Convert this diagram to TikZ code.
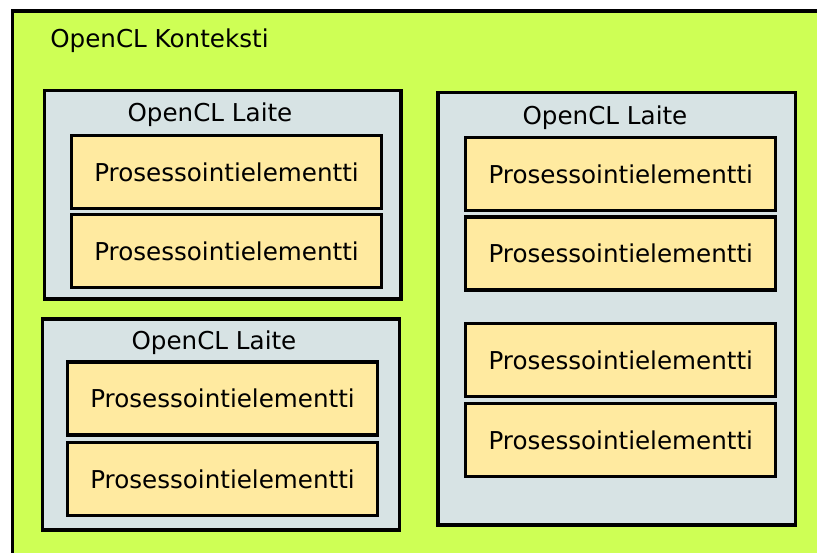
\documentclass[tikz,border=0pt]{standalone}
\usepackage{fontspec}
\setmainfont{DejaVu Sans}

\definecolor{ctxgreen}{HTML}{CEFF55}
\definecolor{devgray}{HTML}{D7E3E4}
\definecolor{peyellow}{HTML}{FFEAA0}

\tikzset{
  device/.style={rectangle, draw, line width=1.9pt, fill=devgray},
  pe/.style={rectangle, draw, line width=1.9pt, fill=peyellow,
    minimum width=6.2cm, minimum height=1.46cm, inner sep=0pt},
  lbl/.style={font=\fontsize{14}{17}\selectfont, inner sep=0pt}
}

\begin{document}
\begin{tikzpicture}[x=0.02cm, y=-0.02cm]
    \useasboundingbox (0,0) rectangle (817,552);
    \clip (0,0) rectangle (817,552);

    % Context
    \fill[ctxgreen] (12.5,11) rectangle (840,580);
    \coordinate (cbl) at (12.5,580);
    \coordinate (ctl) at (12.5,11);
    \coordinate (ctr) at (840,11);
    \draw[line width=1.9pt] (cbl) -- (ctl) -- (ctr);
    \node[lbl, anchor=west] (ctx) at (50,41) {OpenCL Konteksti};

    % Devices
    \node[device, minimum width=7.13cm, minimum height=4.17cm] (d1) at (222.75,194.75) {};
    \node[device, minimum width=7.15cm, minimum height=4.22cm] (d2) at (221,424.5) {};
    \node[device, minimum width=7.15cm, minimum height=8.65cm] (d3) at (616.75,308.75) {};
    \node[lbl] (l1) at (210,115) {OpenCL Laite};
    \node[lbl] (l2) at (214,343) {OpenCL Laite};
    \node[lbl] (l3) at (605,118) {OpenCL Laite};

    % Processing elements
    \foreach \i/\y in {1/172, 2/251} {
        \node[pe] (a\i) at (226.5,\y) {\fontsize{14}{17}\selectfont Prosessointielementti};
    }
    \foreach \i/\y in {1/398.5, 2/479} {
        \node[pe] (b\i) at (222.5,\y) {\fontsize{14}{17}\selectfont Prosessointielementti};
    }
    \foreach \i/\y in {1/174, 2/253.5, 3/360, 4/440} {
        \node[pe] (c\i) at (620.75,\y) {\fontsize{14}{17}\selectfont Prosessointielementti};
    }
\end{tikzpicture}
\end{document}
